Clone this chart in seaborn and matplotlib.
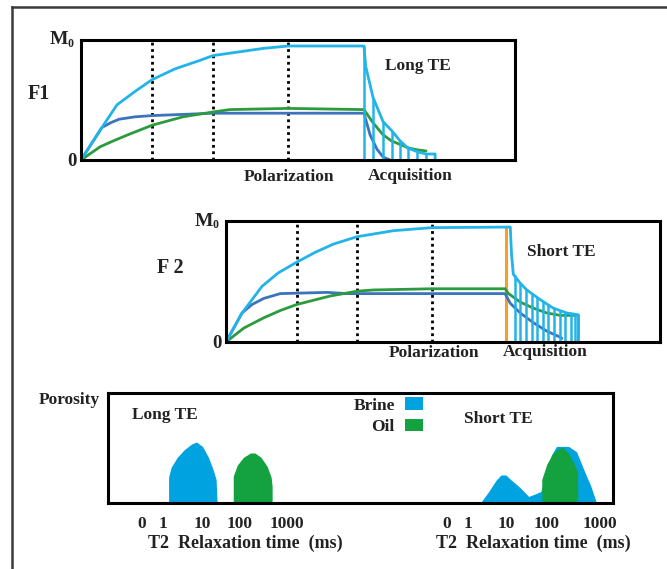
import matplotlib
matplotlib.use("Agg")
import matplotlib.pyplot as plt
from matplotlib.patches import Patch
import seaborn as sns

# colours picked off the figure
LIGHT_BLUE = "#22b4e8"
DARK_BLUE = "#3b74bc"
GREEN = "#2c9b3e"
ORANGE = "#f5a02a"
BRINE_FILL = "#00a2e0"
OIL_FILL = "#13a23f"

# ---- F1, long TE (x: % of the time span, y: fraction of M0) ----
f1_total_x = [0, 4.8, 8.3, 12.4, 16.4, 21.7, 27.4, 30.4, 36.2, 42.0, 47.7, 65.2,
              65.6, 67.3, 69.6, 71.7, 73.5, 75.3, 77.4, 79.5, 81.6, 81.6]
f1_total_y = [0, 0.27, 0.46, 0.57, 0.67, 0.76, 0.83, 0.87, 0.90, 0.93, 0.95, 0.95,
              0.78, 0.52, 0.32, 0.24, 0.16, 0.10, 0.07, 0.05, 0.05, 0]
f1_brine_x = [0, 4.8, 6.8, 8.8, 12.5, 16.4, 30.4, 65.2, 66.6, 68.2, 69.6, 71.2]
f1_brine_y = [0, 0.27, 0.31, 0.34, 0.36, 0.37, 0.39, 0.39, 0.21, 0.09, 0.025, 0]
f1_oil_x = [0, 4.4, 7.5, 10.8, 16.4, 23.5, 30.4, 34.3, 47.7, 65.2,
            67.3, 69.6, 71.5, 73.5, 75.5, 77.4, 79.5]
f1_oil_y = [0, 0.11, 0.16, 0.21, 0.29, 0.36, 0.40, 0.42, 0.43, 0.42,
            0.31, 0.21, 0.16, 0.13, 0.10, 0.085, 0.075]
f1_echo_x = [65.2, 67.3, 69.6, 71.7, 73.5, 75.3, 77.4, 79.5]
f1_echo_h = [0.95, 0.52, 0.32, 0.24, 0.16, 0.10, 0.07, 0.05]
f1_wait = [16.4, 30.4, 47.7]

# ---- F2, short TE ----
f2_total_x = [0, 3.7, 8.3, 12.0, 16.3, 20.5, 24.8, 30.2, 38.6, 47.4, 65.5,
              65.8, 66.2, 67.7, 69.3, 72.4, 75.4, 78.5, 81.2, 81.2]
f2_total_y = [0, 0.24, 0.46, 0.57, 0.66, 0.74, 0.81, 0.87, 0.92, 0.945, 0.95,
              0.72, 0.56, 0.49, 0.43, 0.35, 0.28, 0.24, 0.225, 0]
f2_brine_x = [0, 3.7, 6.0, 8.7, 12.5, 23.3, 27.9, 64.3, 65.5, 67.8, 70.8, 73.9, 77.0, 77.4]
f2_brine_y = [0, 0.24, 0.31, 0.36, 0.40, 0.41, 0.40, 0.40, 0.32, 0.24, 0.16, 0.09, 0.04, 0.03]
f2_oil_x = [0, 4.1, 8.7, 12.5, 16.3, 24.0, 30.2, 34.0, 47.4, 64.3, 65.1, 67.8, 70.8, 73.9, 77.0, 80.8]
f2_oil_y = [0, 0.115, 0.20, 0.26, 0.31, 0.38, 0.42, 0.43, 0.44, 0.44, 0.40, 0.33, 0.28, 0.24, 0.22, 0.22]
f2_echo_x = [66.5, 67.8, 69.1, 70.4, 71.7, 73.0, 74.3, 75.6, 76.9, 78.2, 79.5, 80.5, 81.2]
f2_echo_h = [0.55, 0.49, 0.44, 0.40, 0.37, 0.34, 0.31, 0.28, 0.26, 0.245, 0.235, 0.228, 0.225]
f2_wait = [16.3, 30.2, 47.4]
f2_pulse = 64.5

# ---- T2 distributions (x: % of panel width, y: fraction of panel height) ----
long_brine_x = [12.1, 12.1, 12.6, 13.8, 15.2, 16.6, 17.6, 18.8, 20.0, 20.9, 21.5, 21.7]
long_brine_y = [0, 0.23, 0.32, 0.41, 0.48, 0.53, 0.55, 0.51, 0.41, 0.30, 0.21, 0]
long_oil_x = [24.9, 24.9, 25.7, 26.9, 28.3, 29.2, 30.4, 31.6, 32.4, 32.6, 32.6]
long_oil_y = [0, 0.24, 0.34, 0.41, 0.45, 0.45, 0.41, 0.33, 0.23, 0.15, 0]
short_brine_x = [73.9, 75.5, 76.9, 77.9, 78.9, 79.8, 81.6, 83.4, 84.8, 85.8,
                 87.0, 87.9, 88.9, 91.3, 92.9, 94.3, 95.7, 96.8]
short_brine_y = [0, 0.10, 0.20, 0.25, 0.25, 0.21, 0.14, 0.055, 0.08, 0.10,
                 0.30, 0.43, 0.51, 0.51, 0.46, 0.30, 0.15, 0]
short_oil_x = [86.0, 86.0, 87.0, 88.1, 89.3, 90.1, 91.3, 92.3, 93.1, 93.1]
short_oil_y = [0, 0.21, 0.35, 0.44, 0.49, 0.50, 0.45, 0.36, 0.28, 0]

t2_tick_pos = [6.7, 10.9, 18.6, 26.1, 35.4, 67.1, 71.3, 78.8, 86.9, 97.4]
t2_tick_labels = ["0", "1", "10", "100", "1000", "0", "1", "10", "100", "1000"]

W, H = 667, 569
sns.set_theme(style="white")
plt.rcParams["font.family"] = ["Liberation Serif", "DejaVu Serif"]
plt.rcParams["font.weight"] = "bold"
TXT = "#222222"

fig = plt.figure(figsize=(W / 100, H / 100), dpi=100)


def px_axes(left, top, right, bottom):
    return fig.add_axes([left / W, 1 - bottom / H, (right - left) / W, (bottom - top) / H])


# outer frame: only left and top edges are visible
bg = px_axes(12, 7, 667, 569)
bg.set_xticks([])
bg.set_yticks([])
for side in ["right", "bottom"]:
    bg.spines[side].set_visible(False)
for side in ["left", "top"]:
    bg.spines[side].set_color("#3a3a3a")
    bg.spines[side].set_linewidth(1.8)


def box(ax):
    ax.set_xlim(0, 100)
    ax.set_ylim(0, 1)
    ax.set_xticks([])
    ax.set_yticks([])
    for s in ax.spines.values():
        s.set_color("black")
        s.set_linewidth(2.2)


def curve(ax, x, y, color):
    sns.lineplot(x=x, y=y, ax=ax, color=color, lw=2, sort=False, estimator=None)


def magnet_panel(ax, name, total, brine, oil, echo_x, echo_h, waits, te_label, pol_y, acq_x):
    box(ax)
    ax.vlines(waits, 0, 1, colors="black", lw=2, linestyles=(0, (1, 1.3)))
    curve(ax, *brine, DARK_BLUE)
    curve(ax, *oil, GREEN)
    ax.vlines(echo_x, 0, echo_h, colors=LIGHT_BLUE, lw=1.8)
    curve(ax, *total, LIGHT_BLUE)
    ax.text(-3.0, 1.0, "M", ha="right", va="center", size=14, color=TXT)
    ax.text(-3.0, 0.94, "0", ha="left", va="baseline", size=8.5, color=TXT)
    ax.text(-2.1, -0.01, "0", ha="center", va="center", size=13.5, color=TXT)
    ax.text(name[1], name[2], name[0], ha="center", va="center", size=14.5, color=TXT)
    ax.text(te_label[1], te_label[2], te_label[0], ha="center", va="center", size=12.5, color=TXT)
    ax.text(48, pol_y, "Polarization", ha="center", va="center", size=12.5, color=TXT)
    ax.text(acq_x, pol_y + 0.005, "Acquisition", ha="center", va="center", size=12.5, color=TXT)


ax1 = px_axes(81, 40, 515, 160)
magnet_panel(ax1, ("F1", -9.8, 0.55), (f1_total_x, f1_total_y), (f1_brine_x, f1_brine_y),
             (f1_oil_x, f1_oil_y), f1_echo_x, f1_echo_h, f1_wait,
             ("Long TE", 77.6, 0.78), -0.14, 75.8)

ax2 = px_axes(226, 221, 660, 342)
ax2.vlines([f2_pulse], 0, 0.95, colors=ORANGE, lw=2.2, zorder=1)
ax2.vlines([0], 0, 0.13, colors=LIGHT_BLUE, lw=2)
magnet_panel(ax2, ("F 2", -12.9, 0.61), (f2_total_x, f2_total_y), (f2_brine_x, f2_brine_y),
             (f2_oil_x, f2_oil_y), f2_echo_x, f2_echo_h, f2_wait,
             ("Short TE", 77.2, 0.74), -0.09, 73.5)

# T2 distributions
ax3 = px_axes(108, 393, 613, 503)
box(ax3)
ax3.fill(long_brine_x, long_brine_y, color=BRINE_FILL, lw=0)
ax3.fill(long_oil_x, long_oil_y, color=OIL_FILL, lw=0)
ax3.fill(short_brine_x, short_brine_y, color=BRINE_FILL, lw=0)
ax3.fill(short_oil_x, short_oil_y, color=OIL_FILL, lw=0)
ax3.set_xticks(t2_tick_pos)
ax3.set_xticklabels(t2_tick_labels, size=12.5, color=TXT, fontweight="bold")
ax3.tick_params(axis="x", length=0, pad=9)
ax3.text(-1.6, 0.94, "Porosity", ha="right", va="center", size=12.5, color=TXT)
ax3.text(11.3, 0.80, "Long TE", ha="center", va="center", size=12.5, color=TXT)
ax3.text(77.3, 0.76, "Short TE", ha="center", va="center", size=12.5, color=TXT)
for xc in [27.1, 84.2]:
    ax3.text(xc, -0.37, "T2  Relaxation time  (ms)", ha="center", va="center",
             size=13, color=TXT)

handles = [Patch(facecolor=BRINE_FILL, edgecolor="none"), Patch(facecolor=OIL_FILL, edgecolor="none")]
ax3.legend(handles, ["Brine", "Oil"], loc="upper right", bbox_to_anchor=(0.623, 0.96),
           markerfirst=False, frameon=False, fontsize=12.5, handlelength=1.0,
           handleheight=0.7, handletextpad=0.6, labelspacing=0.3, borderpad=0,
           borderaxespad=0, labelcolor=TXT)

fig.savefig("out.png", dpi=100, facecolor="white")
